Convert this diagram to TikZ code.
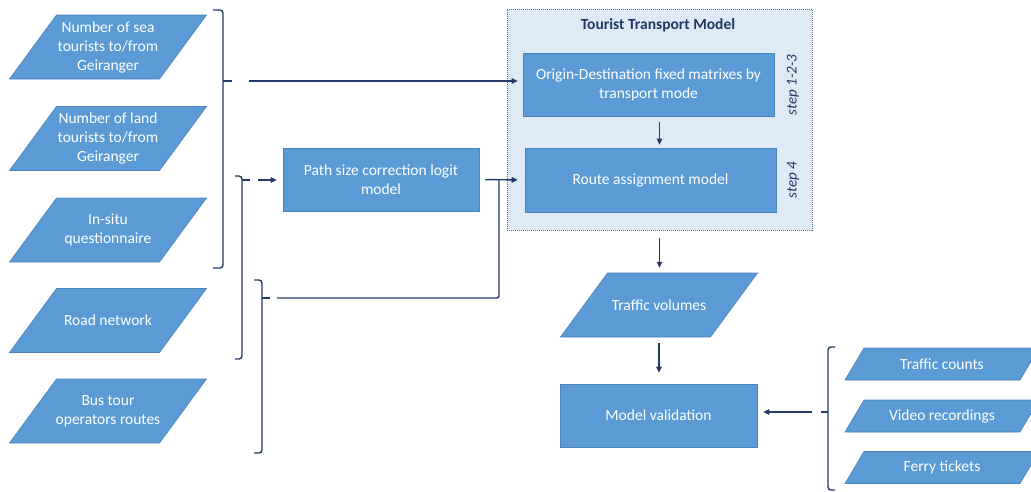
\documentclass[tikz,border=0pt]{standalone}
\usepackage{fontspec}
\setmainfont{Carlito}
\usetikzlibrary{arrows.meta,calc}
\pgfdeclarelayer{bg}
\pgfsetlayers{bg,main}
\definecolor{boxblue}{RGB}{91,155,213}
\definecolor{boxedge}{RGB}{78,128,188}
\definecolor{navy}{RGB}{38,58,105}
\definecolor{ttmfill}{RGB}{222,234,246}
\definecolor{ttmedge}{RGB}{95,110,145}
\definecolor{titlec}{RGB}{31,56,100}
\newcommand\boxfont{\fontsize{15.5}{19}\selectfont}
% name, cx, cy, side width, height, slant, text
\newcommand\ppara[7]{%
  \node[ptext, minimum width=#4, minimum height=#5] (#1) at (#2,#3) {#7};
  \begin{pgfonlayer}{bg}
    \filldraw[parafill] ({#2-#4/2-#6/2},{#3+#5/2}) -- ++(#4,0) -- ++(#6,-#5) -- ++(-#4,0) -- cycle;
  \end{pgfonlayer}}
\tikzset{
  ptext/.style={rectangle, inner sep=0pt, align=center, text=white, font=\boxfont},
  parafill/.style={fill=boxblue, draw=boxedge, line width=0.6pt},
  procbox/.style={rectangle, fill=boxblue, draw=boxedge, line width=0.6pt, inner sep=0pt, align=center, text=white, font=\boxfont},
  conn/.style={draw=navy, line width=1.4pt},
  arr/.style={conn, -{Triangle[length=6pt,width=5.5pt]}},
  brace/.style={conn, rounded corners=3pt},
  steplbl/.style={rotate=90, text=titlec, font=\fontsize{15}{18}\selectfont\itshape}
}
\begin{document}
\begin{tikzpicture}[x=1pt,y=-1pt]
\useasboundingbox (0,0) rectangle (1031,491);
\begin{pgfonlayer}{bg}
\fill[white] (0,0) rectangle (1031,491);
\end{pgfonlayer}

% left inputs
\ppara{sea}{108}{47}{150}{64}{47}{Number of sea\\tourists to/from\\Geiranger}
\ppara{land}{108}{138.5}{150}{64}{47}{Number of land\\tourists to/from\\Geiranger}
\ppara{quest}{108}{230}{150}{64}{47}{In-situ\\questionnaire}
\ppara{road}{108}{320.5}{150}{64}{47}{Road network}
\ppara{bus}{108}{411}{150}{64}{47}{Bus tour\\operators routes}

% tourist transport model container
\node[rectangle, fill=ttmfill, draw=ttmedge, line width=0.8pt, dash pattern=on 1pt off 1pt,
      minimum width=305, minimum height=221, inner sep=0pt] (ttm) at (659.5,119.5) {};
\node[text=titlec, font=\fontsize{15.5}{19}\selectfont\bfseries] (ttmtitle) at (658,25) {Tourist Transport Model};
\node[procbox, minimum width=251, minimum height=63] (od) at (648.5,84.5) {Origin-Destination fixed matrixes by\\transport mode};
\node[procbox, minimum width=251, minimum height=64] (route) at (650.5,180) {Route assignment model};
\node[steplbl] (s123) at (793,85) {step 1-2-3};
\node[steplbl] (s4) at (793,180) {step 4};

% path size model
\node[procbox, minimum width=196, minimum height=63] (psl) at (381,179.5) {Path size correction logit\\model};

% outputs
\ppara{tv}{659}{305}{150}{64}{47}{Traffic volumes}
\node[procbox, minimum width=197, minimum height=63] (mv) at (658.5,415.5) {Model validation};

% validation data
\ppara{tc}{942}{364}{175}{32}{19}{Traffic counts}
\ppara{vr}{942}{416}{175}{32}{19}{Video recordings}
\ppara{ft}{942}{467.5}{175}{32}{19}{Ferry tickets}

% braces
\coordinate (b1) at (232,81);
\coordinate (b2) at (250,180);
\coordinate (b3) at (270,298);
\coordinate (b4) at (821,412);
\coordinate (j) at (499,180);
\draw[brace] (213,10) -- (223,10) -- (223,268) -- (213,268);
\draw[conn] (223,81) -- (b1);
\draw[brace] (235,176) -- (242,176) -- (242,359) -- (235,359);
\draw[conn] (242,180) -- (b2);
\draw[brace] (254,280) -- (262,280) -- (262,453) -- (254,453);
\draw[conn] (262,298) -- (b3);
\draw[brace] (835,347) -- (828,347) -- (828,490) -- (835,490);
\draw[conn] (828,412) -- (b4);

% connectors
\draw[arr, shorten <=17pt, shorten >=5pt] (b1) -- (b1 -| od.west);
\draw[arr, shorten <=8pt, shorten >=6pt] (b2) -- (b2 -| psl.west);
\draw[arr, shorten <=6pt, shorten >=7pt] (psl.east) -- (route.west);
\draw[conn, shorten <=7pt, rounded corners=2pt] (b3) -| (j);
\draw[arr, shorten <=6pt, shorten >=3pt] (od.south -| ttm.center) -- (route.north -| ttm.center);
\draw[arr, shorten <=8pt, shorten >=5pt] (ttm.south) -- (ttm.south |- tv.north);
\draw[arr, shorten <=6pt, shorten >=11pt] (tv.south) -- (tv.south |- mv.north);
\draw[arr, shorten <=9pt, shorten >=6pt] (b4) -- (b4 -| mv.east);
\end{tikzpicture}
\end{document}
